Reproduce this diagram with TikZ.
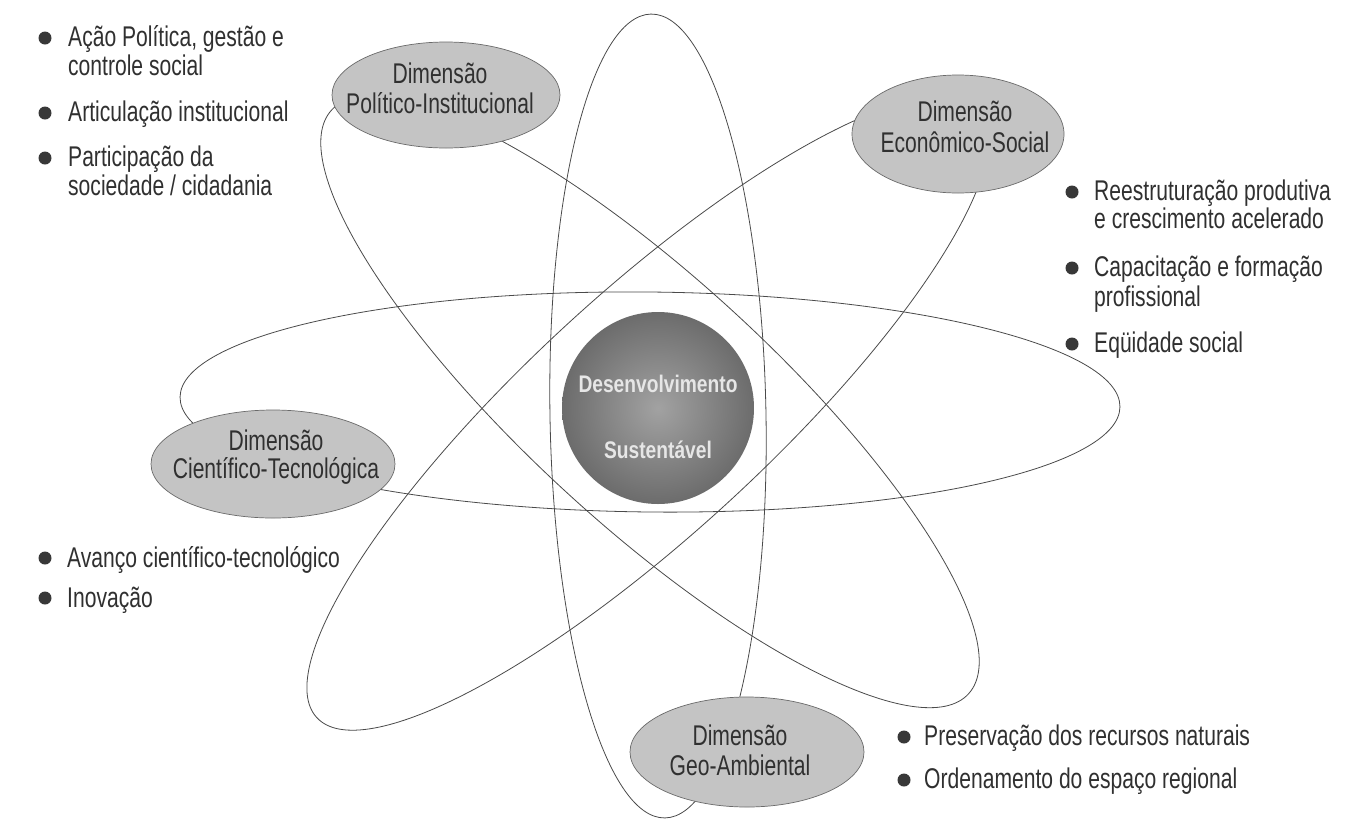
\documentclass[tikz,border=0pt]{standalone}
\usepackage{fontspec}
\usetikzlibrary{shapes.geometric}
\setmainfont{Liberation Sans}[FakeStretch=0.74]
\newfontfamily\sphfont{Liberation Sans Bold}[FakeStretch=0.8]
\definecolor{inkgray}{HTML}{303030}
\definecolor{linegray}{HTML}{4a4a4a}
\definecolor{rimgray}{HTML}{6a6a6a}
\definecolor{dimfill}{HTML}{c4c4c4}
\definecolor{dotgray}{HTML}{383838}
\definecolor{sphlight}{HTML}{a2a2a2}
\definecolor{sphdark}{HTML}{6c6c6c}
\definecolor{sphtext}{HTML}{e6e6e6}
\begin{document}
\begin{tikzpicture}[x=1pt,y=-1pt,
  orbit/.style={draw=linegray, line width=0.8pt},
  dimshape/.style={draw=rimgray, fill=dimfill, line width=0.7pt, ellipse, inner sep=0pt},
  txt/.style={anchor=base west, inner sep=0pt, text=inkgray,
    font=\fontsize{28.5}{28}\selectfont},
  dimtxt/.style={anchor=base, inner sep=0pt, text=inkgray,
    font=\fontsize{28.5}{28}\selectfont},
  dot/.style={circle, fill=dotgray, inner sep=0pt, minimum size=13pt},
  sphtxt/.style={anchor=base, inner sep=0pt, text=sphtext,
    font=\sphfont\fontsize{24}{24}\selectfont},
]
\useasboundingbox (0,0) rectangle (1367,820);
\fill[white] (0,0) rectangle (1367,820);

\begin{scope}
\clip (0,0) rectangle (1367,820);
% the four large orbits crossing the centre
\draw[orbit, rotate around={1:(658,416)}] (658,416) ellipse [x radius=108, y radius=402];
\draw[orbit, rotate around={-0.6:(650,402)}] (650,402) ellipse [x radius=470, y radius=110];
\draw[orbit, rotate around={42.6:(648,413)}] (648,413) ellipse [x radius=450, y radius=120];
\draw[orbit, rotate around={-42.5:(650,402)}] (650,402) ellipse [x radius=432, y radius=123];
\end{scope}

% the four dimensions
\node[dimshape, minimum width=228pt, minimum height=106pt] (pol) at (446,95) {};
\node[dimshape, minimum width=212pt, minimum height=118pt] (eco) at (958,134) {};
\node[dimshape, minimum width=244pt, minimum height=108pt] (cie) at (273,464) {};
\node[dimshape, minimum width=234pt, minimum height=110pt] (geo) at (747,752) {};

\node[dimtxt] (polA) at (440,83) {Dimensão};
\node[dimtxt] (polB) at (440,113) {Político-Institucional};
\node[dimtxt] (ecoA) at (965,121) {Dimensão};
\node[dimtxt] (ecoB) at (965,152) {Econômico-Social};
\node[dimtxt] (cieA) at (276,450) {Dimensão};
\node[dimtxt] (cieB) at (276,478) {Científico-Tecnológica};
\node[dimtxt] (geoA) at (740,745) {Dimensão};
\node[dimtxt] (geoB) at (740,775) {Geo-Ambiental};

% centre
\node[circle, minimum size=192pt, inner sep=0pt, inner color=sphlight, outer color=sphdark] (core) at (658,408) {};
\node[sphtxt] (coreA) at (658,392) {Desenvolvimento};
\node[sphtxt] (coreB) at (658,458) {Sustentável};

% political-institutional items
\node[dot] (d1) at (45,38) {};
\node[txt] (t1a) at (68,46) {Ação Política, gestão e};
\node[txt] (t1b) at (68,75) {controle social};
\node[dot] (d2) at (45,113) {};
\node[txt] (t2) at (68,121) {Articulação institucional};
\node[dot] (d3) at (45,158) {};
\node[txt] (t3a) at (68,166) {Participação da};
\node[txt] (t3b) at (68,195) {sociedade / cidadania};

% economic-social items
\node[dot] (d4) at (1072,192) {};
\node[txt] (t4a) at (1094,200) {Reestruturação produtiva};
\node[txt] (t4b) at (1094,228) {e crescimento acelerado};
\node[dot] (d5) at (1072,268) {};
\node[txt] (t5a) at (1094,276) {Capacitação e formação};
\node[txt] (t5b) at (1094,306) {profissional};
\node[dot] (d6) at (1072,344) {};
\node[txt] (t6) at (1094,352) {Eqüidade social};

% scientific-technological items
\node[dot] (d7) at (45,558) {};
\node[txt] (t7) at (67,567) {Avanço científico-tecnológico};
\node[dot] (d8) at (45,598) {};
\node[txt] (t8) at (67,607) {Inovação};

% geo-environmental items
\node[dot] (d9) at (904,737) {};
\node[txt] (t9) at (924,745) {Preservação dos recursos naturais};
\node[dot] (d10) at (904,780) {};
\node[txt] (t10) at (924,788) {Ordenamento do espaço regional};
\end{tikzpicture}
\end{document}
